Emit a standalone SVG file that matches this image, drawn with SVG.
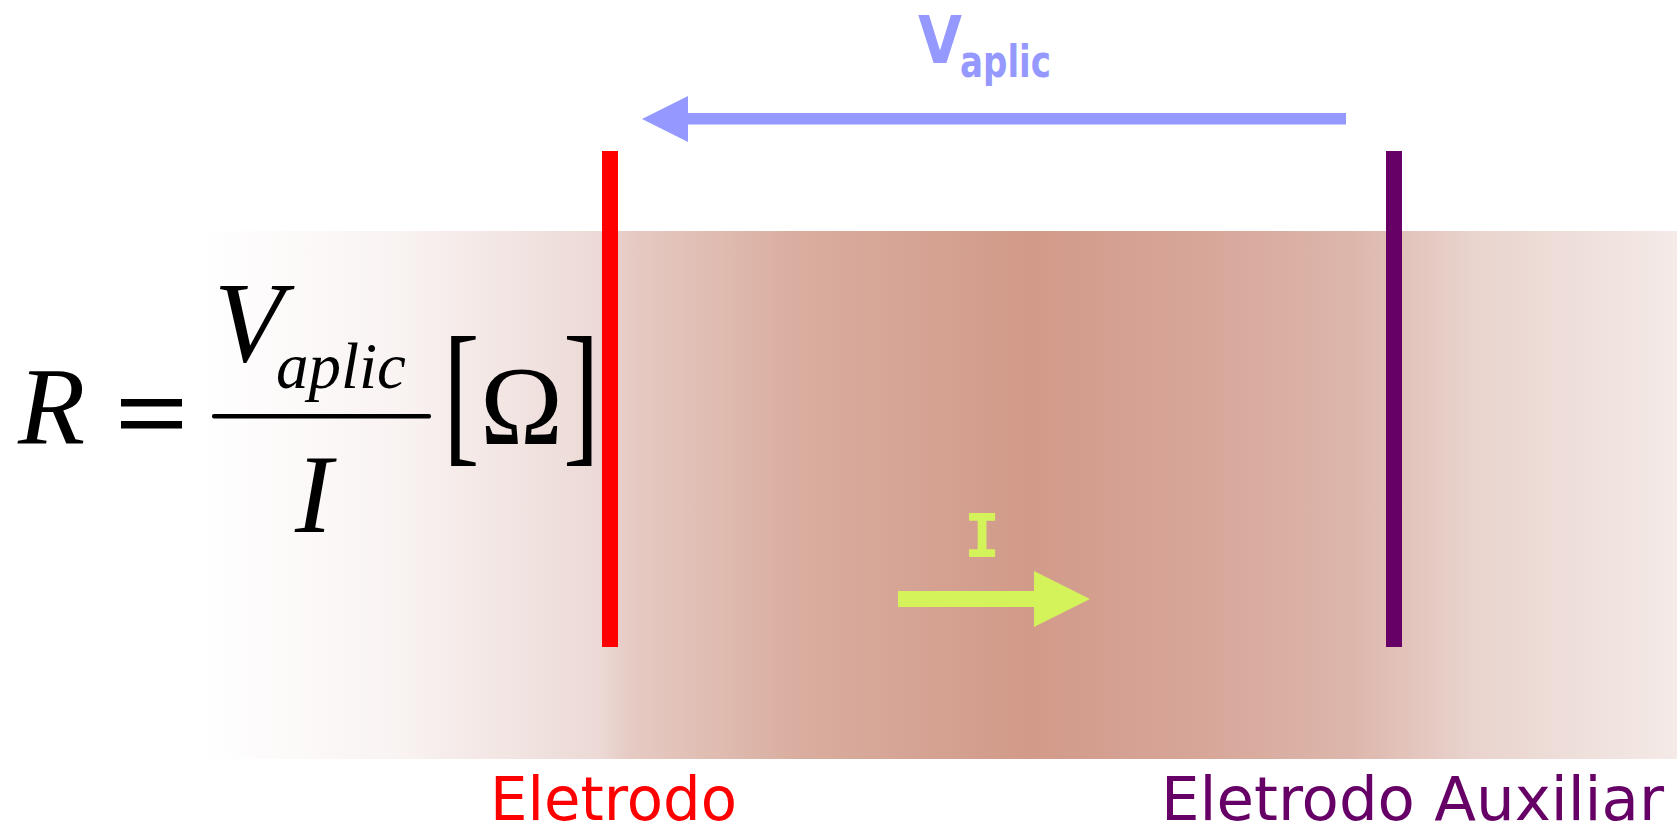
<svg xmlns="http://www.w3.org/2000/svg" width="1677" height="835" viewBox="0 0 1677 835">
  <defs>
    <linearGradient id="band" gradientUnits="userSpaceOnUse" x1="200" y1="0" x2="1677" y2="0">
      <stop offset="0" stop-color="#FFFFFF"/>
      <stop offset="0.135" stop-color="#F9F3F2"/>
      <stop offset="0.271" stop-color="#ECD9D5"/>
      <stop offset="0.29" stop-color="#E6CBC4"/>
      <stop offset="0.406" stop-color="#D9AD9F"/>
      <stop offset="0.562" stop-color="#D29A89"/>
      <stop offset="0.677" stop-color="#D7A699"/>
      <stop offset="0.779" stop-color="#DDB6AB"/>
      <stop offset="0.86" stop-color="#E9D3CD"/>
      <stop offset="1" stop-color="#F4EAE7"/>
    </linearGradient>
    <style>
      .math { font-family: "Liberation Serif", "Times New Roman", serif; fill: #000; }
      .it { font-style: italic; }
      .lbl { font-family: "DejaVu Sans", "Liberation Sans", sans-serif; }
    </style>
  </defs>

  <rect x="0" y="0" width="1677" height="835" fill="#FFFFFF"/>
  <rect id="medium" x="200" y="231" width="1477" height="528" fill="url(#band)"/>

  <g id="formula">
    <text class="math it" x="18" y="444" font-size="110">R</text>
    <rect x="121" y="399" width="61" height="7.5" fill="#000"/>
    <rect x="121" y="421" width="61" height="7.5" fill="#000"/>
    <text class="math it" x="214" y="361" font-size="114">V</text>
    <text class="math it" x="276" y="388" font-size="65">aplic</text>
    <rect x="212" y="414" width="219" height="4.5" rx="2" fill="#000"/>
    <text class="math it" x="295" y="532" font-size="112">I</text>
    <text class="math" transform="translate(443,445) scale(1,1.43)" font-size="110">[</text>
    <text class="math" x="480" y="444" font-size="112" textLength="83" lengthAdjust="spacingAndGlyphs">Ω</text>
    <text class="math" transform="translate(563,445) scale(1,1.43)" font-size="110">]</text>
  </g>

  <g id="eletrodo">
    <rect x="602" y="151" width="16" height="496" fill="#FF0000"/>
    <text class="lbl" x="490" y="820" font-size="60" fill="#FF0000" textLength="247" lengthAdjust="spacingAndGlyphs">Eletrodo</text>
  </g>

  <g id="eletrodo-auxiliar">
    <rect x="1386" y="151" width="16" height="496" fill="#660066"/>
    <text class="lbl" x="1161" y="820" font-size="60" fill="#660066" textLength="503" lengthAdjust="spacingAndGlyphs">Eletrodo Auxiliar</text>
  </g>

  <g id="connectors">
    <g id="v-aplic">
      <rect x="686" y="113" width="660" height="11.5" fill="#9599FF"/>
      <polygon points="642,119 688,96 688,142" fill="#9599FF"/>
    </g>
    <g id="current">
      <rect x="898" y="591" width="138" height="16" fill="#D4F25A"/>
      <polygon points="1034,571 1090,599 1034,627" fill="#D4F25A"/>
    </g>
  </g>

  <g id="labels">
    <text class="lbl" x="918" y="63" font-size="66" font-weight="bold" fill="#9599FF" textLength="44" lengthAdjust="spacingAndGlyphs">V</text>
    <text class="lbl" x="960" y="77" font-size="44" font-weight="bold" fill="#9599FF" textLength="91" lengthAdjust="spacingAndGlyphs">aplic</text>
    <text x="982" y="557" font-size="60" font-weight="bold" fill="#D4F25A" text-anchor="middle" font-family="'DejaVu Sans Mono', monospace">I</text>
  </g>
</svg>
